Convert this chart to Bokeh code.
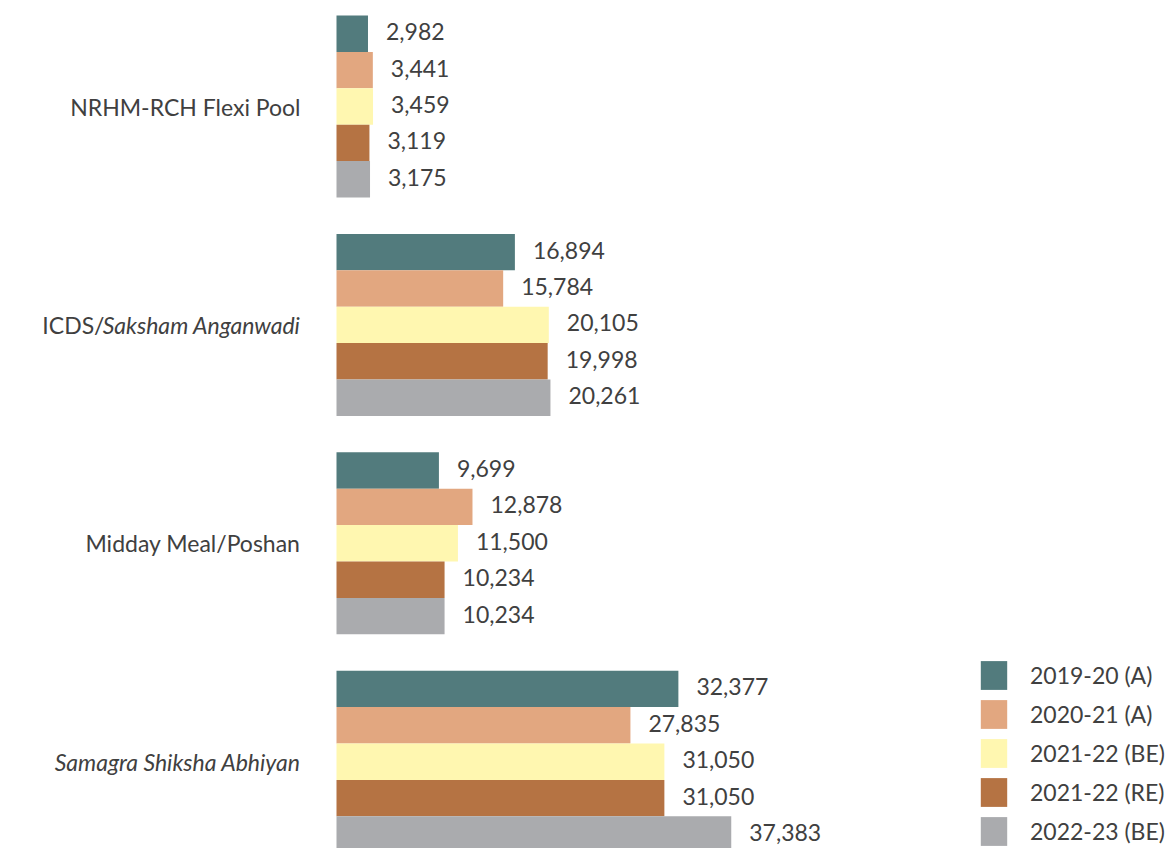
from bokeh.plotting import figure
from bokeh.models import Range1d, ColumnDataSource, Legend, LegendItem
from bokeh.core.properties import value
from bokeh.embed import file_html
from bokeh.resources import INLINE

categories = ["NRHM-RCH Flexi Pool", "ICDS/Saksham Anganwadi", "Midday Meal/Poshan", "Samagra Shiksha Abhiyan"]
series = ["2019-20 (A)", "2020-21 (A)", "2021-22 (BE)", "2021-22 (RE)", "2022-23 (BE)"]
v_2019_20_A = [2982, 16894, 9699, 32377]
v_2020_21_A = [3441, 15784, 12878, 27835]
v_2021_22_BE = [3459, 20105, 11500, 31050]
v_2021_22_RE = [3119, 19998, 10234, 31050]
v_2022_23_BE = [3175, 20261, 10234, 37383]
italic_parts = {"ICDS/Saksham Anganwadi": "Saksham Anganwadi",
                "Samagra Shiksha Abhiyan": "Samagra Shiksha Abhiyan"}
colors = ["#527B7D", "#E2A780", "#FFF7B0", "#B57343", "#AAABAE"]

all_values = [v_2019_20_A, v_2020_21_A, v_2021_22_BE, v_2021_22_RE, v_2022_23_BE]

FONT = "Lato"
FS = "23px"
TXT = "#404040"

W, H = 1170, 848
k = 94.7  # data units per pixel
x_start = -336 * k
u = 36.4  # pixels per bar
y_top = -0.5 - 15 / u
p = figure(width=W, height=H,
           x_range=Range1d(x_start, x_start + W * k),
           y_range=Range1d(y_top + H / u, y_top),
           output_backend="svg", toolbar_location=None, min_border=0,
           x_axis_location=None, y_axis_location=None)
p.grid.visible = False
p.outline_line_color = None

n_s = len(series)
items = []
for s, (name, vals, col) in enumerate(zip(series, all_values, colors)):
    ys = [g * (n_s + 1) + s for g in range(len(categories))]
    src = ColumnDataSource(dict(y=ys, v=vals, lbl=[f"{v:,}" for v in vals]))
    r = p.hbar(y="y", left=0, right="v", height=1.0, fill_color=col, line_color=None, source=src)
    p.text(x="v", y="y", text="lbl", source=src, x_offset=18, y_offset=-2, text_align="left",
           text_baseline="middle", text_font=value(FONT), text_font_size=FS, text_color=TXT)
    items.append(LegendItem(label=name, renderers=[r]))

# category labels
plain_src = dict(y=[], t=[], off=[])
ital_src = dict(y=[], t=[])
for g, cat in enumerate(categories):
    yc = g * (n_s + 1) + (n_s - 1) / 2
    it = italic_parts.get(cat, "")
    plain = cat[:len(cat) - len(it)] if it else cat
    if it:
        ital_src["y"].append(yc)
        ital_src["t"].append(it)
    if plain:
        plain_src["y"].append(yc)
        plain_src["t"].append(plain)
        plain_src["off"].append(-36 - (196 if it else 0))

p.text(x=0, y="y", text="t", x_offset="off", source=ColumnDataSource(plain_src),
       text_align="right", text_baseline="middle", text_font=value(FONT),
       text_font_size=FS, text_color=TXT)
p.text(x=0, y="y", text="t", x_offset=-36, source=ColumnDataSource(ital_src),
       text_align="right", text_baseline="middle", text_font=value(FONT),
       text_font_style="italic", text_font_size=FS, text_color=TXT)

legend = Legend(items=items, location=(977, -1), padding=0, margin=0, spacing=3,
                glyph_width=33, glyph_height=36, label_height=36, label_standoff=20,
                label_text_font=FONT, label_text_font_size=FS, label_text_color=TXT,
                border_line_color=None, background_fill_alpha=0)
p.add_layout(legend)

open("out.html", "w").write(file_html(p, INLINE))
